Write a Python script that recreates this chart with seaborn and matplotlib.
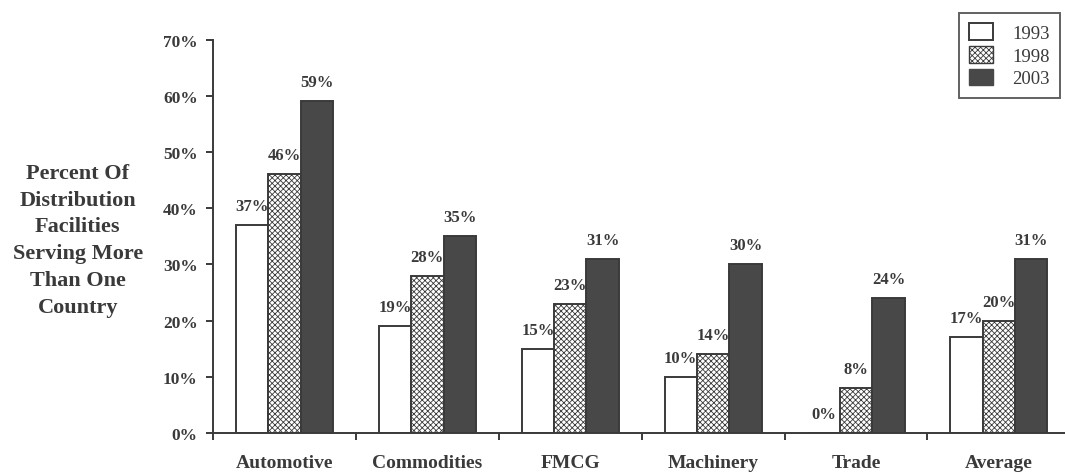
import numpy as np
import pandas as pd
import matplotlib
matplotlib.use("Agg")
import matplotlib.pyplot as plt
from matplotlib.patches import Patch
import seaborn as sns

categories = ["Automotive", "Commodities", "FMCG", "Machinery", "Trade", "Average"]
years = ["1993", "1998", "2003"]
share_1993 = [37, 19, 15, 10, 0, 17]
share_1998 = [46, 28, 23, 14, 8, 20]
share_2003 = [59, 35, 31, 30, 24, 31]
y_ticks = [0, 10, 20, 30, 40, 50, 60, 70]

sns.set_theme(style="white")
plt.rcParams["font.family"] = ["Liberation Serif", "DejaVu Serif"]
plt.rcParams["hatch.linewidth"] = 0.6

ink = "#3a3a3a"
dark = "#484848"

df = pd.DataFrame({
    "category": categories * 3,
    "year": [y for y in years for _ in categories],
    "value": share_1993 + share_1998 + share_2003,
})

fig = plt.figure(figsize=(10.65, 4.77), dpi=100)
ax = fig.add_axes([0.2, 0.09, 0.805, 0.825])

sns.barplot(data=df, x="category", y="value", hue="year", order=categories,
            hue_order=years, palette=["white", "white", dark], width=0.68,
            edgecolor=ink, linewidth=1.4, legend=False, ax=ax, errorbar=None)

for patch in ax.containers[1]:
    patch.set_hatch("xxxxxx")

for cont, vals in zip(ax.containers, [share_1993, share_1998, share_2003]):
    ax.bar_label(cont, labels=[f"{v}%" for v in vals], padding=8,
                 fontsize=12, fontweight="bold", color=ink)

ax.set_xlim(-0.5, 5.5)
ax.set_ylim(0, 70)
ax.set_yticks(y_ticks)
ax.set_yticklabels([f"{t}%" for t in y_ticks], fontsize=12.5, fontweight="bold", color=ink)
ax.set_xticks(range(len(categories)))
ax.set_xticklabels(categories, fontsize=14, fontweight="bold", color=ink)
ax.set_xticks(np.arange(-0.5, 6, 1), minor=True)
ax.tick_params(axis="x", which="major", length=0, pad=15)
ax.tick_params(axis="x", which="minor", length=5, width=1.4, color=ink, direction="out", bottom=True)
ax.tick_params(axis="y", which="major", length=5, width=1.4, color=ink, direction="out", left=True, pad=6)
ax.set_xlabel("")
ax.set_ylabel("")

for side in ["top", "right"]:
    ax.spines[side].set_visible(False)
for side in ["left", "bottom"]:
    ax.spines[side].set_color(ink)
    ax.spines[side].set_linewidth(1.4)

fig.text(0.073, 0.495,
         "Percent Of\nDistribution\nFacilities\nServing More\nThan One\nCountry",
         ha="center", va="center", fontsize=16, fontweight="bold", color=ink,
         linespacing=1.46)

handles = [
    Patch(facecolor="white", edgecolor=ink, linewidth=1.4, label="1993"),
    Patch(facecolor="white", edgecolor=ink, linewidth=1.0, hatch="xxxxxx", label="1998"),
    Patch(facecolor=dark, edgecolor=dark, linewidth=1.0, label="2003"),
]
leg = fig.legend(handles=handles, loc="upper right", bbox_to_anchor=(1.004, 0.99),
                 frameon=True, fancybox=False, fontsize=13.5, handlelength=1.3,
                 handleheight=1.0, labelspacing=0.2, borderpad=0.55,
                 handletextpad=1.0, labelcolor=ink)
leg.get_frame().set_edgecolor(ink)
leg.get_frame().set_linewidth(1.4)

fig.savefig("out.png", dpi=100, facecolor="white")
